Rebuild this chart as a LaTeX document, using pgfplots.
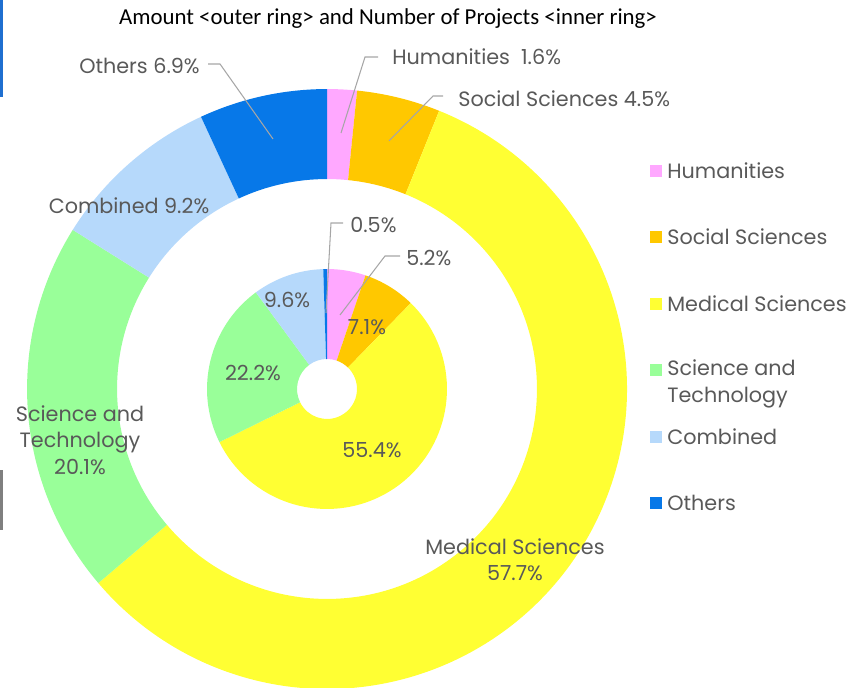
\documentclass[border=0pt]{standalone}
\usepackage{pgfplots}
\pgfplotsset{compat=1.18}
\usepackage{pgfplotstable}
\usepackage{fontspec}
\setmainfont{Poppins}
\newfontfamily\titlefont{Carlito}

\definecolor{hum}{HTML}{FFA8FF}
\definecolor{soc}{HTML}{FFC800}
\definecolor{med}{HTML}{FFFF33}
\definecolor{snt}{HTML}{99FF99}
\definecolor{comb}{HTML}{B6D9FB}
\definecolor{oth}{HTML}{0778E8}
\definecolor{lab}{HTML}{595959}
\definecolor{lead}{HTML}{A6A6A6}
\definecolor{edgeblue}{HTML}{1F6FD0}
\definecolor{edgegray}{HTML}{7F7F7F}

% outer ring: amount (%)
\pgfplotstableread{
name value col
Humanities 1.6 hum
Social 4.5 soc
Medical 57.7 med
SciTech 20.1 snt
Combined 9.2 comb
Others 6.9 oth
}\outerdata

% inner ring: number of projects (%)
\pgfplotstableread{
name value col
Humanities 5.2 hum
Social 7.1 soc
Medical 55.4 med
SciTech 22.2 snt
Combined 9.6 comb
Others 0.5 oth
}\innerdata

% #1 table, #2 outer radius, #3 inner radius, #4 ring width
\newcommand\ring[4]{%
  \pgfplotstablegetrowsof{#1}%
  \pgfmathtruncatemacro\nlast{\pgfplotsretval-1}%
  \def\angA{90}%
  \pgfplotsforeachungrouped \i in {0,...,\nlast}{%
    \pgfplotstablegetelem{\i}{value}\of{#1}\let\sliceval\pgfplotsretval
    \pgfplotstablegetelem{\i}{col}\of{#1}\let\slicecol\pgfplotsretval
    \pgfmathsetmacro\angB{\angA-3.6*\sliceval}%
    \edef\temp{\noexpand\fill[fill=\slicecol] (327,299) ++(\angA:#2)
      arc[start angle=\angA, end angle=\angB, radius=#2]
      -- ++({\angB+180}:#4)
      arc[start angle=\angB, end angle=\angA, radius=#3] -- cycle;}%
    \temp
    \global\let\angA\angB
  }%
}

\begin{document}
\begin{tikzpicture}
\begin{axis}[
  hide axis,
  x=0.02cm, y=0.02cm,
  xmin=0, xmax=854, ymin=0, ymax=688,
  disabledatascaling,
  clip=false,
]
\coordinate (ll) at (0,0);
\coordinate (ur) at (854,688);

\ring{\outerdata}{6cm}{4.2cm}{1.8cm}
\ring{\innerdata}{2.4cm}{0.6cm}{1.8cm}

% leader lines
\draw[lead, line width=0.6pt] (378,631) -- (365,631) -- (341,555);
\draw[lead, line width=0.6pt] (443,592) -- (433,592) -- (389,547);
\draw[lead, line width=0.6pt] (208,624) -- (220,624) -- (273,549);
\draw[lead, line width=0.6pt] (343,465) -- (331,465) -- (326,375);
\draw[lead, line width=0.6pt] (400,432) -- (385,432) -- (340,373);

% title
\node[font=\titlefont\fontsize{13}{15}\selectfont, text=black] at (388,669)
  {Amount <outer ring> and Number of Projects <inner ring>};

% outer labels
\begin{scope}[every node/.style={text=lab, font=\fontsize{11.8}{15}\selectfont, inner sep=0pt}]
\node[anchor=west] at (392,631) {Humanities\ \ 1.6\%};
\node[anchor=west] at (458,589) {Social Sciences 4.5\%};
\node[anchor=east] at (200,622) {Others 6.9\%};
\node at (129,482) {Combined 9.2\%};
\node[align=center] at (80,248) {Science and\\Technology\\20.1\%};
\node[align=center] at (515,128) {Medical Sciences\\57.7\%};
% inner labels
\node[anchor=west] at (350,463) {0.5\%};
\node[anchor=west] at (406,430) {5.2\%};
\node at (367,361) {7.1\%};
\node at (287,388) {9.6\%};
\node at (253,315) {22.2\%};
\node at (372,238) {55.4\%};
% legend
\node[anchor=west] at (667,517) {Humanities};
\node[anchor=west] at (667,451) {Social Sciences};
\node[anchor=west] at (667,384) {Medical Sciences};
\node[anchor=west, align=left] at (667,304) {Science and\\Technology};
\node[anchor=west] at (667,251) {Combined};
\node[anchor=west] at (667,185) {Others};
\end{scope}
\fill[hum]  (650,511) rectangle (662,523);
\fill[soc]  (650,445) rectangle (662,457);
\fill[med]  (650,378) rectangle (662,390);
\fill[snt]  (650,312) rectangle (662,324);
\fill[comb] (650,245) rectangle (662,257);
\fill[oth]  (650,179) rectangle (662,191);

% screenshot edge marks
\fill[edgeblue] (0,591) rectangle (3,688);
\fill[edgegray] (0,158) rectangle (3,218);
\end{axis}
\pgfresetboundingbox
\path[use as bounding box] (ll) rectangle (ur);
\end{tikzpicture}
\end{document}
